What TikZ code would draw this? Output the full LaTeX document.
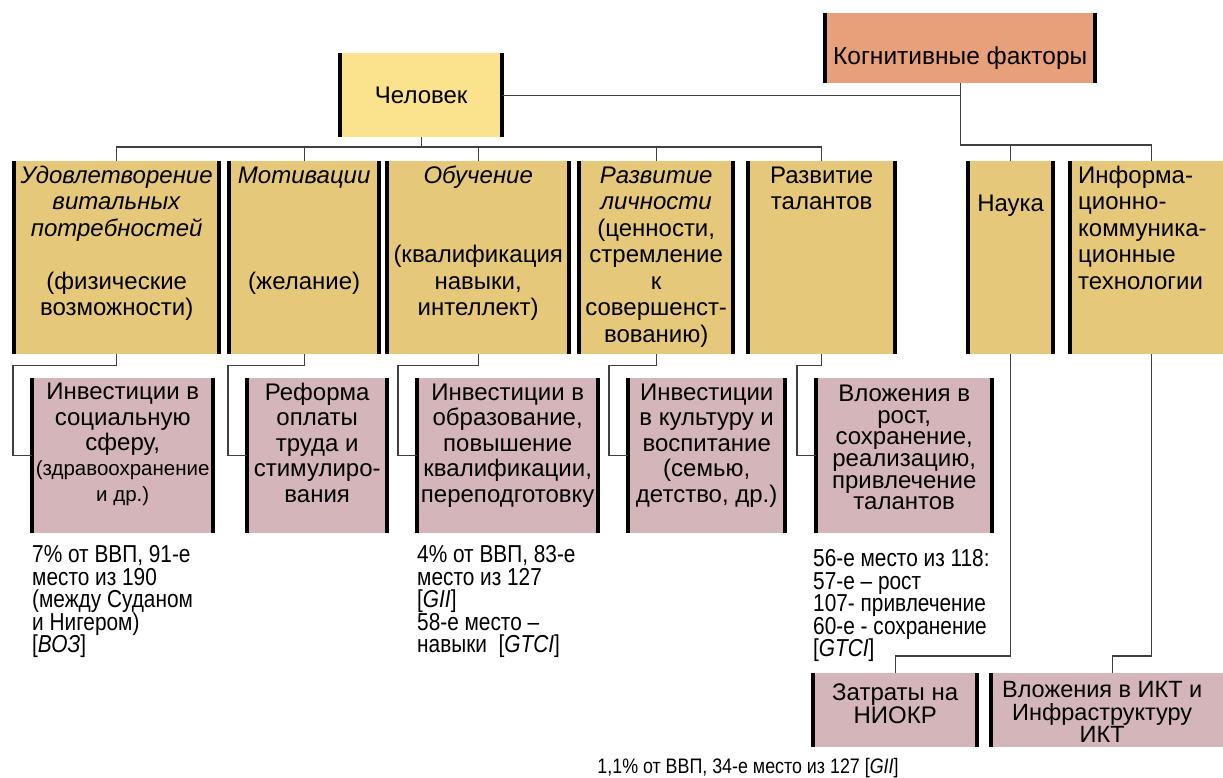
\documentclass[tikz,border=0pt]{standalone}
\usepackage{fontspec}
\setmainfont{Liberation Sans}
\newfontfamily\narrowfont{Liberation Sans}[FakeStretch=0.85]
\usepackage{tikz}
\usetikzlibrary{positioning}
\definecolor{humanfill}{RGB}{251,226,140}
\definecolor{cogfill}{RGB}{232,160,122}
\definecolor{factorfill}{RGB}{229,200,121}
\definecolor{investfill}{RGB}{212,181,185}
\lineskiplimit=-50pt

\begin{document}
\begin{tikzpicture}[x=1pt, y=-1pt,
  box/.style={anchor=north west, inner sep=0pt},
  factor/.style={box, fill=factorfill, minimum height=193pt},
  invest/.style={box, fill=investfill, minimum height=155pt},
  bar/.style={line width=4pt, black},
  conn/.style={draw=black!75, line width=1.2pt},
  lbl/.style={inner sep=0pt, align=center, font=\fontsize{24}{26.5}\selectfont},
  note/.style={inner sep=0pt, align=left, font=\narrowfont\fontsize{24.5}{22.5}\selectfont}]
\useasboundingbox (0,0) rectangle (1223,778);

% top level
\node[box, fill=humanfill, minimum width=162pt, minimum height=84pt, font=\fontsize{24}{27}\selectfont] (chel) at (340,53) {Человек};
\node[box, fill=cogfill, minimum width=270pt, minimum height=70pt, text height=33pt, text depth=0pt, font=\fontsize{24.5}{27}\selectfont] (kog) at (825,13) {Когнитивные факторы};

% factors
\node[factor, minimum width=205pt] (vit) at (14,161) {};
\node[factor, minimum width=150pt] (mot) at (229,161) {};
\node[factor, minimum width=182pt] (obu) at (387,161) {};
\node[factor, minimum width=154pt] (lich) at (579,161) {};
\node[factor, minimum width=147pt] (tal) at (748,161) {};
\node[factor, minimum width=85pt] (nauka) at (968,161) {};
\node[factor, minimum width=162pt] (ikt) at (1070,161) {};

% investments
\node[invest, minimum width=181pt] (socinv) at (32,378) {};
\node[invest, minimum width=140pt] (wage) at (247,378) {};
\node[invest, minimum width=181pt] (eduinv) at (417,378) {};
\node[invest, minimum width=157pt] (culinv) at (628,378) {};
\node[invest, minimum width=176pt] (talinv) at (816,378) {};
\node[box, fill=investfill, minimum width=164pt, minimum height=74pt] (niokr) at (813,673) {};
\node[box, fill=investfill, minimum width=242pt, minimum height=74pt] (iktinv) at (991,673) {};

\foreach \n in {chel,kog,vit,mot,obu,lich,tal,nauka,ikt,socinv,wage,eduinv,culinv,talinv,niokr,iktinv}
  \draw[bar] (\n.north west) -- (\n.south west) (\n.north east) -- (\n.south east);

% connectors
\coordinate (bus) at (0,147);
\coordinate (kbus) at (0,145);
\coordinate (rbus) at (0,656);
\draw[conn] (vit.north) -- (vit.north |- bus) -- (tal.north |- bus) -- (tal.north);
\foreach \n in {chel.south,mot.north,obu.north,lich.north}
  \draw[conn] (\n) -- (\n |- bus);
\draw[conn] (chel.east) -| (kog.south);
\draw[conn] (kog.south) -- (kog.south |- kbus) -| (ikt.north);
\draw[conn] (nauka.north) -- (nauka.north |- kbus);
\foreach \a/\b in {vit/socinv,mot/wage,obu/eduinv,lich/culinv,tal/talinv}
  \draw[conn] (\a.south) -- ++(0,11) -| ([xshift=-19pt]\b.west) -- (\b.west);
\draw[conn] (nauka.south) -- (nauka.south |- rbus) -| (niokr.north);
\draw[conn] (ikt.south) -- (ikt.south |- rbus) -| (iktinv.north);

% texts of factors
\node[lbl, below=3.5pt of vit.north] (vit-t) {\strut\textit{Удовлетворение}\\\textit{витальных}\\\textit{потребностей}\\[26.5pt](физические\\возможности)};
\node[lbl, below=3.5pt of mot.north] (mot-t) {\strut\textit{Мотивации}\\[79.5pt](желание)};
\node[lbl, below=3.5pt of obu.north] (obu-t) {\strut\textit{Обучение}\\[53pt](квалификация\\навыки,\\интеллект)};
\node[lbl, below=3.5pt of lich.north] (lich-t) {\strut\textit{Развитие}\\\textit{личности}\\(ценности,\\стремление\\к\\совершенст-\\вованию)};
\node[lbl, below=3.5pt of tal.north] (tal-t) {\strut Развитие\\талантов};
\node[lbl, below=32pt of nauka.north] (nauka-t) {\strut Наука};
\node[lbl, align=left, below right=3.5pt and 8pt of ikt.north west] (ikt-t) {\strut Информа-\\ционно-\\коммуника-\\ционные\\технологии};

% texts of investments
\node[lbl, below=4pt of socinv.north, font=\fontsize{24}{25.3}\selectfont] (socinv-t) {\strut Инвестиции в\\социальную\\сферу,\\{\fontsize{20.5}{25}\selectfont (здравоохранение}\\{\fontsize{20.5}{25}\selectfont и др.)}};
\node[lbl, below=4pt of wage.north, font=\fontsize{24}{25.5}\selectfont] (wage-t) {\strut Реформа\\оплаты\\труда и\\стимулиро-\\вания};
\node[lbl, below=4pt of eduinv.north, font=\fontsize{24}{25.5}\selectfont] (eduinv-t) {\strut Инвестиции в\\образование,\\повышение\\квалификации,\\переподготовку};
\node[lbl, below=4pt of culinv.north, font=\fontsize{24}{25.5}\selectfont] (culinv-t) {\strut Инвестиции\\в культуру и\\воспитание\\(семью,\\детство, др.)};
\node[lbl, below=7pt of talinv.north, font=\fontsize{24}{21.6}\selectfont] (talinv-t) {\strut Вложения в\\рост,\\сохранение,\\реализацию,\\привлечение\\талантов};
\node[lbl, below=11pt of niokr.north, font=\fontsize{24}{23}\selectfont] (niokr-t) {\strut Затраты на\\НИОКР};
\node[lbl, below=8.5pt of iktinv.north, xshift=-10pt, font=\fontsize{23.5}{22.3}\selectfont] (iktinv-t) {\strut Вложения в ИКТ и\\Инфраструктуру\\ИКТ};

% ratings
\node[note, below right=12pt and 0pt of socinv.south west] (socnote) {\strut 7\% от ВВП, 91-е\\место из 190\\(между Суданом\\и Нигером)\\{[}\textit{ВОЗ}]};
\node[note, below right=12pt and 0pt of eduinv.south west] (edunote) {\strut 4\% от ВВП, 83-е\\место из 127\\{[}\textit{GII}]\\58-е место –\\навыки\ \ [\textit{GTCI}]};
\node[note, below right=16pt and -3pt of talinv.south west] (talnote) {\strut 56-е место из 118:\\57-е – рост\\107- привлечение\\60-е - сохранение\\{[}\textit{GTCI}]};
\node[note, font=\narrowfont\fontsize{21}{22}\selectfont] (niokrnote) at (748,768) {1,1\% от ВВП, 34-е место из 127 [\textit{GII}]};
\end{tikzpicture}
\end{document}
